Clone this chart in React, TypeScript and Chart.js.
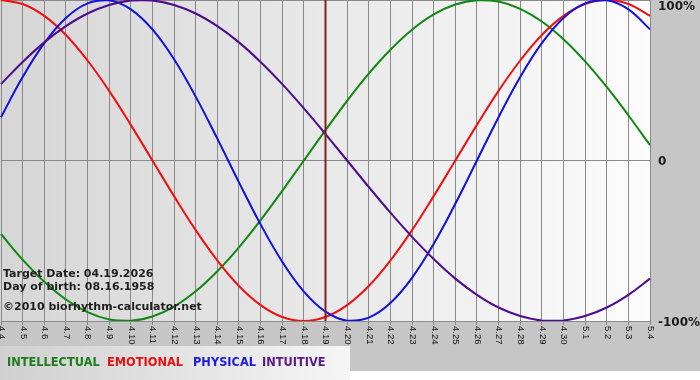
import { useEffect, useRef } from "react";
import { Chart, registerables } from "chart.js";

Chart.register(...registerables);

const dayLabels = [
  "4.4", "4.5", "4.6", "4.7", "4.8", "4.9", "4.10", "4.11", "4.12", "4.13",
  "4.14", "4.15", "4.16", "4.17", "4.18", "4.19", "4.20", "4.21", "4.22", "4.23",
  "4.24", "4.25", "4.26", "4.27", "4.28", "4.29", "4.30", "5.1", "5.2", "5.3", "5.4",
];

const intellectual = [
  -0.458, -0.618, -0.756, -0.866, -0.945, -0.99, -0.999, -0.972, -0.91, -0.815,
  -0.69, -0.541, -0.372, -0.189, 0, 0.189, 0.372, 0.541, 0.69, 0.815,
  0.91, 0.972, 0.999, 0.99, 0.945, 0.866, 0.756, 0.618, 0.458, 0.282, 0.095,
];

const emotional = [
  1, 0.975, 0.901, 0.782, 0.623, 0.434, 0.222, 0, -0.222, -0.434,
  -0.623, -0.782, -0.901, -0.975, -1, -0.975, -0.901, -0.782, -0.623, -0.434,
  -0.222, 0, 0.222, 0.434, 0.623, 0.782, 0.901, 0.975, 1, 0.975, 0.901,
];

const physical = [
  0.27, 0.52, 0.731, 0.888, 0.979, 0.998, 0.942, 0.817, 0.631, 0.398,
  0.136, -0.136, -0.398, -0.631, -0.817, -0.942, -0.998, -0.979, -0.888, -0.731,
  -0.52, -0.27, 0, 0.27, 0.52, 0.731, 0.888, 0.979, 0.998, 0.942, 0.817,
];

const intuitive = [
  0.476, 0.614, 0.736, 0.837, 0.916, 0.969, 0.997, 0.997, 0.969, 0.916,
  0.837, 0.736, 0.614, 0.476, 0.325, 0.165, 0, -0.165, -0.325, -0.476,
  -0.614, -0.736, -0.837, -0.916, -0.969, -0.997, -0.997, -0.969, -0.916, -0.837, -0.736,
];

const yTickValues = [1, 0, -1];
const yTickLabels = ["100%", "0", "-100%"];
const targetLabel = "4.19";
const infoLines = [
  "Target Date: 04.19.2026",
  "Day of birth: 08.16.1958",
  "©2010 biorhythm-calculator.net",
];
const legendNames = ["INTELLECTUAL", "EMOTIONAL", "PHYSICAL", "INTUITIVE"];

const lineColors = ["#118811", "#ee1111", "#1111dd", "#4e0c8c"];
const legendColors = ["#1b7d1b", "#e81010", "#1a1add", "#5a1a8a"];
const legendX = [7, 107, 193, 262];
const infoBaselines = [277, 290, 310];

const decor = {
  id: "decor",
  beforeDraw(chart: any) {
    const { ctx, chartArea: a, width, height } = chart;
    ctx.save();
    ctx.fillStyle = "#c6c6c6";
    ctx.fillRect(0, 0, width, height);
    ctx.fillStyle = "#ffffff";
    ctx.fillRect(0, 371, width, height - 371);
    const lg = ctx.createLinearGradient(0, 0, 350, 0);
    lg.addColorStop(0, "#d0d0d0");
    lg.addColorStop(1, "#f6f6f6");
    ctx.fillStyle = lg;
    ctx.fillRect(0, 346, 350, height - 346);
    const pg = ctx.createLinearGradient(0, 0, a.right, 0);
    pg.addColorStop(0, "#d6d6d6");
    pg.addColorStop(1, "#fcfcfc");
    ctx.fillStyle = pg;
    ctx.fillRect(0, a.top, a.right, a.bottom - a.top);
    ctx.restore();
  },
  afterDatasetsDraw(chart: any) {
    const { ctx, chartArea: a } = chart;
    const xs = chart.scales.x;
    const x = xs.getPixelForValue(dayLabels.indexOf(targetLabel));
    ctx.save();
    ctx.strokeStyle = "#862020";
    ctx.lineWidth = 2;
    ctx.beginPath();
    ctx.moveTo(x, a.top);
    ctx.lineTo(x, a.bottom);
    ctx.stroke();
    ctx.restore();
  },
  afterDraw(chart: any) {
    const { ctx, chartArea: a } = chart;
    const xs = chart.scales.x;
    const ys = chart.scales.y;
    ctx.save();
    // x tick labels, rotated clockwise
    ctx.fillStyle = "#111111";
    ctx.font = "9.5px 'Liberation Sans', Arial, sans-serif";
    ctx.textAlign = "left";
    ctx.textBaseline = "middle";
    dayLabels.forEach((lab, i) => {
      const x = xs.getPixelForValue(i);
      ctx.save();
      ctx.translate(x + 0.5, a.bottom + 5);
      ctx.rotate(Math.PI / 2);
      ctx.fillText(lab, 0, 0);
      ctx.restore();
    });
    // y tick labels on the right
    ctx.font = "bold 12px 'DejaVu Sans', sans-serif";
    ctx.fillStyle = "#1a1a1a";
    yTickValues.forEach((v, i) => {
      const y = Math.max(ys.getPixelForValue(v) + 1.5, 7);
      ctx.fillText(yTickLabels[i], a.right + 8, y);
    });
    // info text
    ctx.textBaseline = "alphabetic";
    ctx.font = "bold 11px 'DejaVu Sans', sans-serif";
    ctx.fillStyle = "#1e1e1e";
    infoLines.forEach((t, i) => ctx.fillText(t, 3, infoBaselines[i]));
    // legend
    ctx.font = "bold 11.4px 'DejaVu Sans', sans-serif";
    legendNames.forEach((t, i) => {
      ctx.fillStyle = legendColors[i];
      ctx.fillText(t, legendX[i], 366);
    });
    ctx.restore();
  },
};

export default function App() {
  const ref = useRef<HTMLCanvasElement | null>(null);
  useEffect(() => {
    if (!ref.current) return;
    const series = [intellectual, emotional, physical, intuitive];
    const chart = new Chart(ref.current, {
      type: "line",
      data: {
        labels: dayLabels,
        datasets: series.map((d, i) => ({
          label: legendNames[i],
          data: d,
          borderColor: lineColors[i],
          backgroundColor: lineColors[i],
          borderWidth: 2,
          pointRadius: 0,
          tension: 0.4,
          fill: false,
          order: 4 - i,
        })),
      },
      options: {
        responsive: false,
        animation: false,
        layout: { padding: { left: 1, right: 50, top: 0, bottom: 59 } },
        plugins: {
          legend: { display: false },
          title: { display: false },
          tooltip: { enabled: false },
        },
        scales: {
          x: {
            type: "category",
            offset: false,
            grid: { color: "#8a8a8a", lineWidth: 1, tickLength: 4, drawTicks: true },
            border: { color: "#8a8a8a" },
            ticks: { display: false, autoSkip: false },
            afterFit: (s: any) => {
              s.height = 0;
              s.paddingLeft = 0;
              s.paddingRight = 0;
            },
          },
          y: {
            position: "right",
            min: -1,
            max: 1,
            grid: { color: "#8a8a8a", lineWidth: 1, drawTicks: false },
            border: { color: "#8a8a8a" },
            ticks: { display: false, stepSize: 1 },
            afterFit: (s: any) => {
              s.width = 0;
              s.paddingTop = 0;
              s.paddingBottom = 0;
            },
          },
        },
      },
      plugins: [decor],
    });
    return () => chart.destroy();
  }, []);
  return (
    <div style={{ position: "absolute", left: 0, top: 0, width: 700, height: 380 }}>
      <canvas ref={ref} width={700} height={380} style={{ display: "block" }} />
    </div>
  );
}
